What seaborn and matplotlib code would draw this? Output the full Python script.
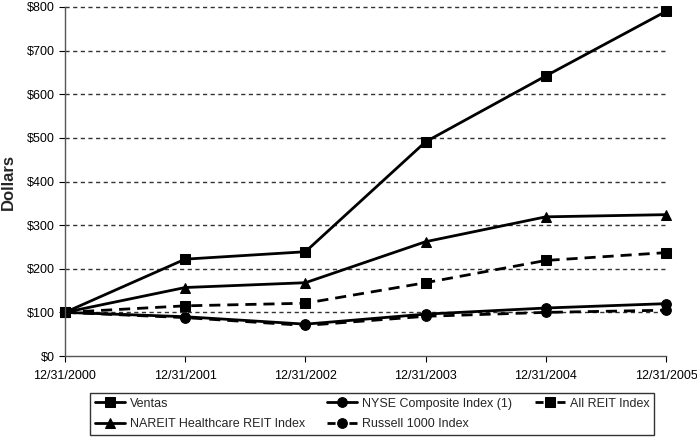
import matplotlib
matplotlib.use("Agg")
import matplotlib.pyplot as plt
import seaborn as sns
import pandas as pd
from matplotlib.ticker import FuncFormatter

dates = ["12/31/2000", "12/31/2001", "12/31/2002", "12/31/2003", "12/31/2004", "12/31/2005"]
ventas = [100, 222, 239, 491, 642, 790]
nareit = [100, 157, 168, 262, 319, 324]
nyse = [100, 90, 73, 96, 110, 120]
russell = [100, 88, 70, 91, 100, 105]
allreit = [100, 115, 121, 168, 219, 237]

series = ["Ventas", "NAREIT Healthcare REIT Index", "NYSE Composite Index (1)",
          "Russell 1000 Index", "All REIT Index"]
vals = [ventas, nareit, nyse, russell, allreit]
markers = {"Ventas": "s", "NAREIT Healthcare REIT Index": "^", "NYSE Composite Index (1)": "o",
           "Russell 1000 Index": "o", "All REIT Index": "s"}
dashes = {"Ventas": "", "NAREIT Healthcare REIT Index": "", "NYSE Composite Index (1)": "",
          "Russell 1000 Index": (4, 2.5), "All REIT Index": (4, 2.5)}

rows = []
for s, v in zip(series, vals):
    for i, (d, y) in enumerate(zip(dates, v)):
        rows.append({"x": i, "Series": s, "y": y})
df = pd.DataFrame(rows)

sns.set_style("white")
plt.rcParams['font.family'] = ['Liberation Sans', 'DejaVu Sans']

fig = plt.figure(figsize=(6.97, 4.43), dpi=100)
ax = fig.add_axes([65/697, 1 - 356/443, (666-65)/697, (356-7)/443])

sns.lineplot(data=df, x="x", y="y", hue="Series", style="Series", hue_order=series,
             style_order=series, palette=["black"]*5, markers=markers, dashes=dashes,
             markersize=7, linewidth=2, markeredgecolor="black", ax=ax, legend=True)

ax.set_ylim(0, 800)
ax.set_xlim(0, 5)
ax.set_yticks(range(0, 801, 100))
ax.yaxis.set_major_formatter(FuncFormatter(lambda v, p: f"${int(v)}"))
ax.set_xticks(range(6))
ax.set_xticklabels(dates)
for y in range(100, 801, 100):
    ax.axhline(y, color="#333333", linestyle=(0, (3, 2.5)), linewidth=1, zorder=0)
ax.set_xlabel("")
ax.set_ylabel("Dollars", fontsize=12, fontweight="bold", labelpad=8)
ax.tick_params(axis="both", labelsize=9, length=4, direction="out", width=0.8, colors="black")
ax.tick_params(axis="x", pad=6)
ax.tick_params(left=True, bottom=True)
for s in ["top", "right"]:
    ax.spines[s].set_visible(False)
for s in ["left", "bottom"]:
    ax.spines[s].set_color("#555555")
    ax.spines[s].set_linewidth(1)
for l in ax.lines:
    l.set_clip_on(False)

handles, labels = ax.get_legend_handles_labels()
ax.legend_.remove()
for h, lab in zip(handles, labels):
    h.set_linewidth(2)
    if lab in ("Russell 1000 Index", "All REIT Index"):
        h.set_linestyle((0, (2.9, 5.0)))
leg = fig.legend(handles, labels, ncol=3, loc="center",
                 bbox_to_anchor=(372/697, 1 - 414/443), frameon=True, fancybox=False,
                 edgecolor="black", fontsize=9, handlelength=2.4, handletextpad=0.4,
                 columnspacing=1.8, borderpad=0.35, labelspacing=0.7)
leg.get_frame().set_linewidth(1)

fig.savefig("out.png", dpi=100)
